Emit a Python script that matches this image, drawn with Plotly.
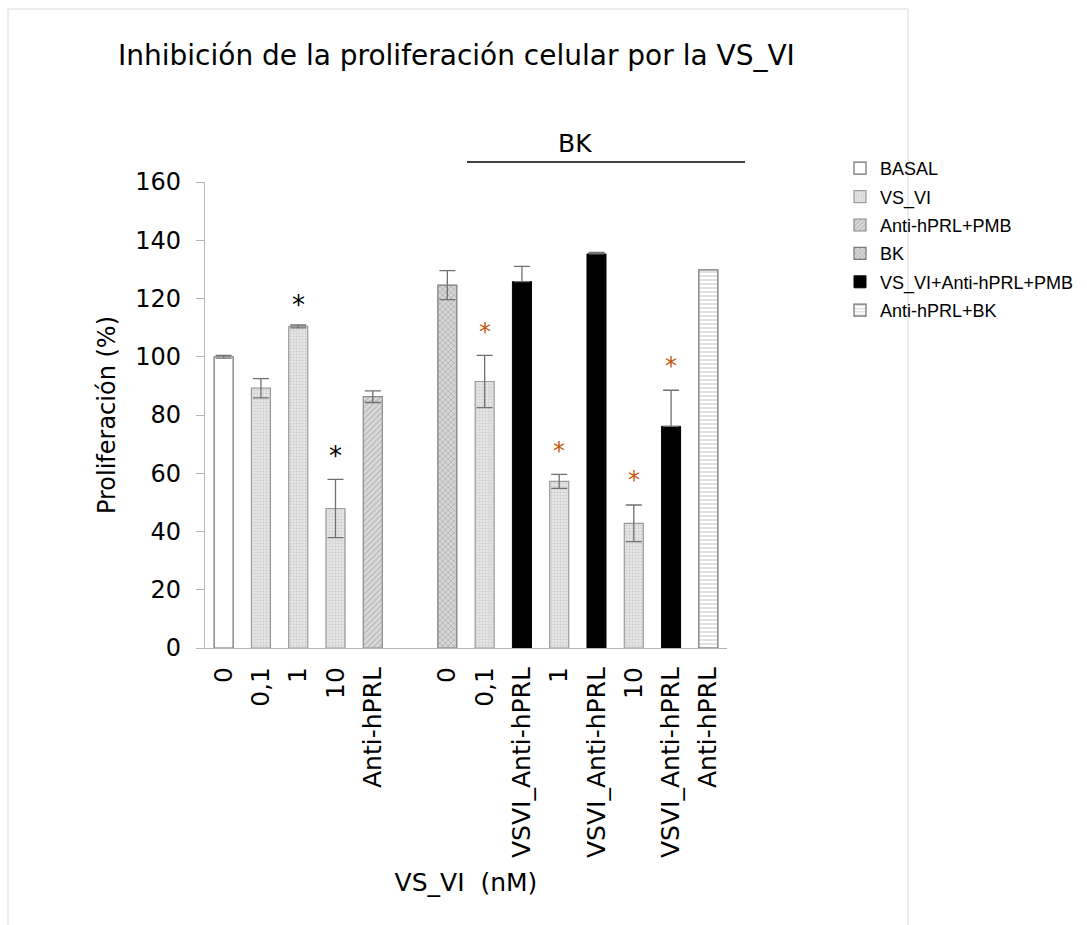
import plotly.graph_objects as go

# ---------------- data ----------------
tick_pos = [0, 1, 2, 3, 4, 6, 7, 8, 9, 10, 11, 12, 13]
tick_text = ["0", "0,1", "1", "10", "Anti-hPRL",
             "0", "0,1", "VSVI_Anti-hPRL", "1", "VSVI_Anti-hPRL", "10", "VSVI_Anti-hPRL", "Anti-hPRL"]
values = [100.0, 89.2, 110.4, 47.9, 86.3,
          124.6, 91.5, 125.8, 57.2, 135.3, 42.8, 76.1, 129.8]
err_plus = [0.5, 3.3, 0.5, 10.0, 2.0,
            5.0, 9.0, 5.2, 2.4, 0.5, 6.3, 12.4, 0.0]
err_minus = [0.5, 3.3, 0.5, 10.0, 2.0,
             5.0, 9.0, 0.0, 2.4, 0.0, 6.3, 0.0, 0.0]
bar_series = ["BASAL", "VS_VI", "VS_VI", "VS_VI", "Anti-hPRL+PMB",
              "BK", "VS_VI", "VS_VI+Anti-hPRL+PMB", "VS_VI", "VS_VI+Anti-hPRL+PMB",
              "VS_VI", "VS_VI+Anti-hPRL+PMB", "Anti-hPRL+BK"]
series_names = ["BASAL", "VS_VI", "Anti-hPRL+PMB", "BK", "VS_VI+Anti-hPRL+PMB", "Anti-hPRL+BK"]

star_pos = [2, 3, 7, 9, 11, 12]
star_y = [119.7, 68.1, 110.7, 69.7, 59.7, 99.0]
star_black = [True, True, False, False, False, False]

y_ticks = [0, 20, 40, 60, 80, 100, 120, 140, 160]

# ---------------- styles ----------------
styles = {
    "BASAL": dict(color="white", line=dict(color="#6f6f6f", width=1.2)),
    "VS_VI": dict(color="white", line=dict(color="#9a9a9a", width=1.2),
                  pattern=dict(shape=".", fgcolor="#b5b5b5", bgcolor="#ececec", size=3, solidity=0.5)),
    "Anti-hPRL+PMB": dict(color="white", line=dict(color="#8a8a8a", width=1.2),
                          pattern=dict(shape="/", fgcolor="#9a9a9a", bgcolor="#dcdcdc", size=4, solidity=0.4)),
    "BK": dict(color="white", line=dict(color="#7a7a7a", width=1.2),
               pattern=dict(shape="x", fgcolor="#8f8f8f", bgcolor="#d6d6d6", size=4, solidity=0.4)),
    "VS_VI+Anti-hPRL+PMB": dict(color="black", line=dict(color="black", width=1)),
    "Anti-hPRL+BK": dict(color="white", line=dict(color="#6f6f6f", width=1.2),
                         pattern=dict(shape="-", fgcolor="#9a9a9a", bgcolor="white", size=4, solidity=0.3)),
}

W, H = 1087, 925
L, R, T, B = 205, 727, 182, 648  # plot area in px


def px_x(p):
    return (p - L) / (R - L)


def px_y(p):
    return (B - p) / (B - T)


fig = go.Figure()
for name in series_names:
    idx = [i for i, s in enumerate(bar_series) if s == name]
    xs = [tick_pos[i] for i in idx]
    ys = [values[i] for i in idx]
    ep = [err_plus[i] for i in idx]
    em = [err_minus[i] for i in idx]
    has_err = any(e > 0 for e in ep)
    fig.add_trace(go.Bar(
        x=xs, y=ys, name=name, width=0.51,
        marker=styles[name], legendgroup=name,
        error_y=dict(type="data", array=ep, arrayminus=em, symmetric=False,
                     visible=has_err, color="#707070", thickness=1.3, width=8),
    ))

for p, yv, blk in zip(star_pos, star_y, star_black):
    fig.add_annotation(x=p, y=yv, xref="x", yref="y", text="*", showarrow=False,
                       yanchor="middle", yshift=-6,
                       font=dict(family="DejaVu Sans", size=26 if blk else 24,
                                 color="#000000" if blk else "#c55a11"))

# BK bracket
fig.add_shape(type="line", xref="paper", yref="paper",
              x0=px_x(467), x1=px_x(745), y0=px_y(162), y1=px_y(162),
              line=dict(color="black", width=1.6))
fig.add_annotation(xref="paper", yref="paper", x=px_x(575), y=px_y(143), text="BK",
                   showarrow=False, xanchor="center", yanchor="middle",
                   font=dict(family="DejaVu Sans", size=25, color="black"))

# faint outer frame
fig.add_shape(type="rect", xref="paper", yref="paper",
              x0=px_x(8), x1=px_x(908), y0=px_y(935), y1=px_y(9),
              line=dict(color="#d8d8d8", width=1), layer="below")

fig.update_layout(
    width=W, height=H,
    margin=dict(l=L, r=W - R, t=T, b=H - B, autoexpand=False),
    paper_bgcolor="white", plot_bgcolor="white",
    barmode="overlay",
    title=dict(text="Inhibición de la proliferación celular por la VS_VI",
               x=118 / W, xanchor="left", y=1 - 55 / H, yanchor="middle",
               xref="container", yref="container",
               font=dict(family="DejaVu Sans", size=28, color="black")),
    font=dict(family="DejaVu Sans", color="black"),
    legend=dict(x=px_x(840), y=px_y(150), xanchor="left", yanchor="top",
                font=dict(family="Liberation Sans", size=18, color="black"),
                tracegroupgap=2, itemwidth=30, bgcolor="rgba(0,0,0,0)"),
    showlegend=True,
)

fig.update_xaxes(range=[-0.5, 13.5], tickmode="array", tickvals=tick_pos, ticktext=tick_text,
                 tickangle=-90, ticks="", showline=True, linecolor="#b5b5b5", linewidth=1.2,
                 showgrid=False, zeroline=False, automargin=False, ticklabelstandoff=8,
                 tickfont=dict(family="DejaVu Sans", size=25, color="black"),
                 title=dict(text="VS_VI  (nM)", standoff=16,
                            font=dict(family="DejaVu Sans", size=25, color="black")))
fig.update_yaxes(range=[0, 160], tickmode="array", tickvals=y_ticks,
                 ticks="outside", ticklen=8, tickcolor="#b5b5b5", tickwidth=1.2,
                 showline=True, linecolor="#b5b5b5", linewidth=1.2,
                 showgrid=False, zeroline=False, automargin=False, ticklabelstandoff=10,
                 tickfont=dict(family="DejaVu Sans", size=24, color="black"),
                 title=dict(text="Proliferación (%)", standoff=12,
                            font=dict(family="DejaVu Sans", size=24, color="black")))

fig.write_html("out.html")
